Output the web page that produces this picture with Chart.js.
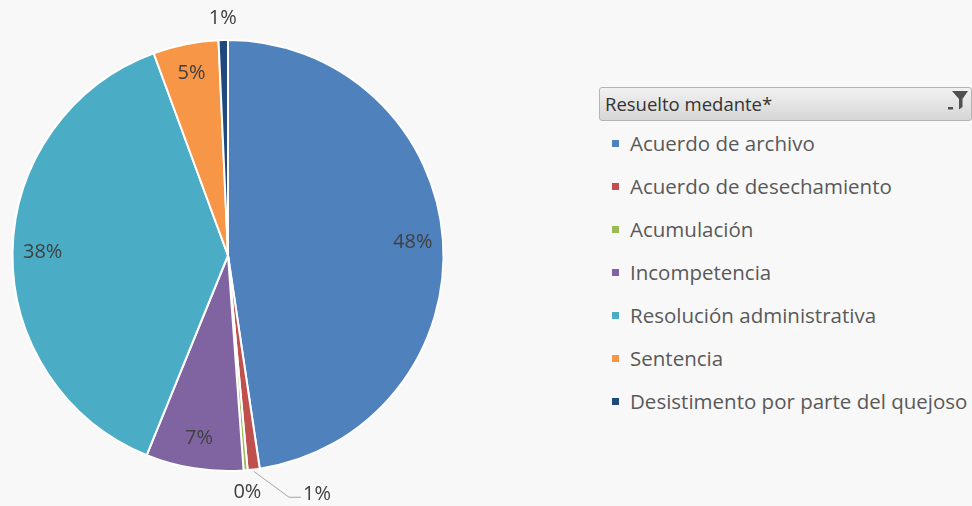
<!DOCTYPE html>
<html>
<head>
<meta charset="utf-8">
<script src="https://cdn.jsdelivr.net/npm/chart.js@4"></script>
<style>
  html, body { margin: 0; padding: 0; background: #f8f8f8; }
  body { width: 972px; height: 506px; position: relative; overflow: hidden; font-family: "Open Sans", sans-serif; }
  #chart { position: absolute; left: 0; top: 0; }
  #legend { position: absolute; left: 599px; top: 87px; width: 373px; }
  .head {
    height: 34px; box-sizing: border-box; border: 1px solid #b4b4b4; border-radius: 3px;
    background: linear-gradient(#f2f2f2, #d6d6d6); color: #333; font-size: 18.5px;
    line-height: 32px; padding-left: 5px; position: relative;
  }
  .head svg { position: absolute; right: 2px; top: 2px; }
  .item { height: 43px; line-height: 43px; color: #595959; font-size: 20.5px; padding-left: 31px; position: relative; white-space: nowrap; }
  .item i { position: absolute; left: 13px; top: 18px; width: 7px; height: 7px; }
  #legend .first { margin-top: 1px; }
</style>
</head>
<body>
<canvas id="chart" width="456" height="506"></canvas>
<div id="legend"></div>
<script>
const labels = ['Acuerdo de archivo', 'Acuerdo de desechamiento', 'Acumulación', 'Incompetencia', 'Resolución administrativa', 'Sentencia', 'Desistimento por parte del quejoso']
const values = [47.6, 0.9, 0.3, 7.3, 38.2, 4.9, 0.7]
const colors = ['#4f81bd', '#c0504d', '#9bbb59', '#8064a2', '#4bacc6', '#f79646', '#1f497d']
const legendTitle = 'Resuelto medante*'

// small slices get their label outside; the red one with a leader line
const leader = [false, true, false, false, false, false, false]

const total = values.reduce((a, b) => a + b, 0)

const pieLabels = {
  id: 'pieLabels',
  afterDatasetsDraw(chart) {
    const ctx = chart.ctx
    const meta = chart.getDatasetMeta(0)
    ctx.save()
    ctx.font = '20px "Open Sans"'
    ctx.fillStyle = '#404040'
    ctx.textBaseline = 'middle'
    meta.data.forEach((arc, i) => {
      const p = arc.getProps(['x', 'y', 'startAngle', 'endAngle', 'outerRadius'], true)
      const mid = (p.startAngle + p.endAngle) / 2
      const R = p.outerRadius
      const txt = Math.round(values[i] / total * 100) + '%'
      const c = Math.cos(mid), s = Math.sin(mid)
      if (values[i] / total >= 0.02) {
        ctx.textAlign = 'center'
        ctx.fillText(txt, p.x + c * R * 0.86, p.y + s * R * 0.86)
      } else if (leader[i]) {
        const x0 = p.x + c * (R + 2), y0 = p.y + s * (R + 2)
        const x1 = p.x + c * (R + 28) + 32, y1 = p.y + s * (R + 28)
        ctx.strokeStyle = '#a6a6a6'
        ctx.lineWidth = 1
        ctx.beginPath()
        ctx.moveTo(x0, y0)
        ctx.lineTo(x1, y1)
        ctx.lineTo(x1 + 12, y1)
        ctx.stroke()
        ctx.textAlign = 'left'
        ctx.fillText(txt, x1 + 14, y1 - 3)
      } else {
        ctx.textAlign = 'center'
        ctx.fillText(txt, p.x + c * (R + 22), p.y + s * (R + 22))
      }
    })
    ctx.restore()
  }
}

new Chart(document.getElementById('chart'), {
  type: 'pie',
  data: {
    labels: labels,
    datasets: [{
      data: values,
      backgroundColor: colors,
      borderColor: '#ffffff',
      borderWidth: 2
    }]
  },
  options: {
    responsive: false,
    animation: false,
    layout: { padding: { top: 39, bottom: 34, left: 11, right: 11 } },
    plugins: {
      legend: { display: false },
      tooltip: { enabled: false }
    }
  },
  plugins: [pieLabels]
})

// legend on the right, built from the same arrays
const lg = document.getElementById('legend')
let html = '<div class="head">' + legendTitle +
  '<svg width="22" height="26" viewBox="0 0 22 26"><path d="M5 1 H21 L15.5 9 V17 L12 19.5 V9 Z" fill="#505050"/><rect x="1" y="17" width="5" height="2.5" fill="#505050"/></svg></div>'
labels.forEach((l, i) => {
  html += '<div class="item' + (i === 0 ? ' first' : '') + '"><i style="background:' + colors[i] + '"></i>' + l + '</div>'
})
lg.innerHTML = html
</script>
</body>
</html>
